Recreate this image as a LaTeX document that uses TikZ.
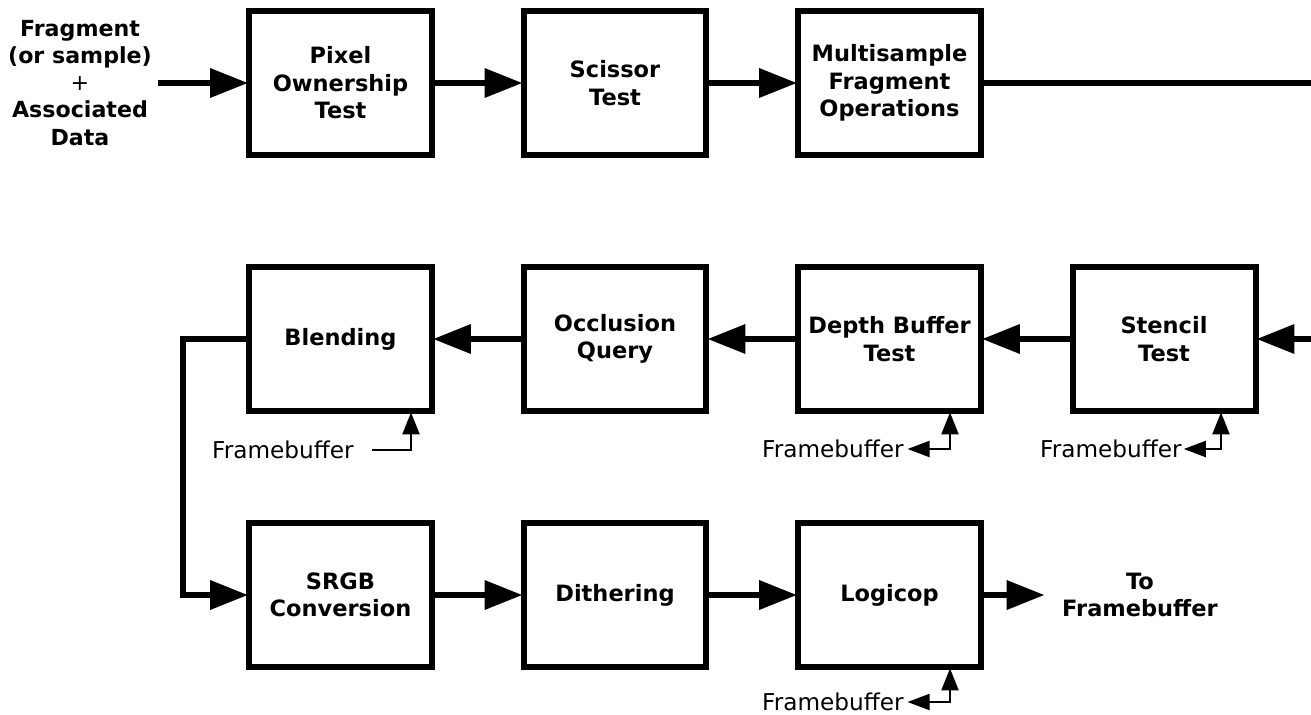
\documentclass[tikz,border=0pt]{standalone}
\usepackage{fontspec}
\setmainfont{DejaVu Sans}
\usetikzlibrary{arrows.meta}
\begin{document}
\begin{tikzpicture}[x=0.02cm,y=-0.02cm,
	stage/.style={draw,line width=0.12cm,outer sep=0.5pt,minimum width=3.66cm,minimum height=2.9cm,align=center,font=\bfseries\fontsize{12.8}{15.6}\selectfont},
	flow/.style={line width=0.13cm,-{Triangle[length=0.76cm,width=0.56cm]}},
	fbtext/.style={font=\fontsize{13.2}{15}\selectfont,anchor=east,inner sep=0pt},
	fbin/.style={line width=0.04cm,-{Triangle[length=0.44cm,width=0.34cm]}},
	fbio/.style={line width=0.04cm,{Triangle[length=0.44cm,width=0.32cm]}-{Triangle[length=0.44cm,width=0.34cm]}}]
	\useasboundingbox (0,0) rectangle (1311,714);
	\node[align=center,font=\bfseries\fontsize{12.6}{15.4}\selectfont,inner sep=0pt,minimum width=3.12cm] (input) at (80,83) {Fragment\\(or sample)\\\mdseries +\\Associated\\Data};
	\node[stage] (pix) at (340.5,83) {Pixel\\Ownership\\Test};
	\node[stage] (sci) at (615,83) {Scissor\\Test};
	\node[stage] (multi) at (889.5,83) {Multisample\\Fragment\\Operations};
	\node[stage] (blend) at (340.5,339) {Blending};
	\node[stage] (occ) at (615,339) {Occlusion\\Query};
	\node[stage] (depth) at (889.5,339) {Depth Buffer\\Test};
	\node[stage] (stencil) at (1164,339) {Stencil\\Test};
	\node[stage] (srgb) at (340.5,595) {SRGB\\Conversion};
	\node[stage] (dith) at (615,595) {Dithering};
	\node[stage] (logic) at (889.5,595) {Logicop};
	\node[align=center,font=\bfseries\fontsize{12.8}{15.6}\selectfont,inner sep=0pt,minimum width=3.8cm] (out) at (1140,595) {To\\Framebuffer};
	\node[fbtext] (fb1) at (354,450) {Framebuffer};
	\node[fbtext] (fb2) at (904,449) {Framebuffer};
	\node[fbtext] (fb3) at (1182,449) {Framebuffer};
	\node[fbtext] (fb4) at (904,702) {Framebuffer};
	\coordinate (exit) at (1311,83);
	\coordinate (entry) at (1311,339);
	\coordinate (c1) at (411,450);
	\coordinate (c2) at (950,449);
	\coordinate (c3) at (1221,449);
	\coordinate (c4) at (950,702);
	\draw[flow] (input) -- (pix);
	\draw[flow] (pix) -- (sci);
	\draw[flow] (sci) -- (multi);
	\draw[line width=0.12cm] (multi) -- (exit);
	\draw[flow] (entry) -- (stencil);
	\draw[flow] (stencil) -- (depth);
	\draw[flow] (depth) -- (occ);
	\draw[flow] (occ) -- (blend);
	\draw[flow] (blend.west) -- ++(-65,0) |- (srgb.west);
	\draw[flow] (srgb) -- (dith);
	\draw[flow] (dith) -- (logic);
	\draw[flow] (logic) -- (out);
	\draw[fbin] (fb1.east) ++(18,0) -- (c1) -- (c1 |- blend.south);
	\draw[fbio] ([xshift=2pt]fb2.east) -- (c2) -- (c2 |- depth.south);
	\draw[fbio] ([xshift=1pt]fb3.east) -- (c3) -- (c3 |- stencil.south);
	\draw[fbio] ([xshift=2pt]fb4.east) -- (c4) -- (c4 |- logic.south);
\end{tikzpicture}
\end{document}
